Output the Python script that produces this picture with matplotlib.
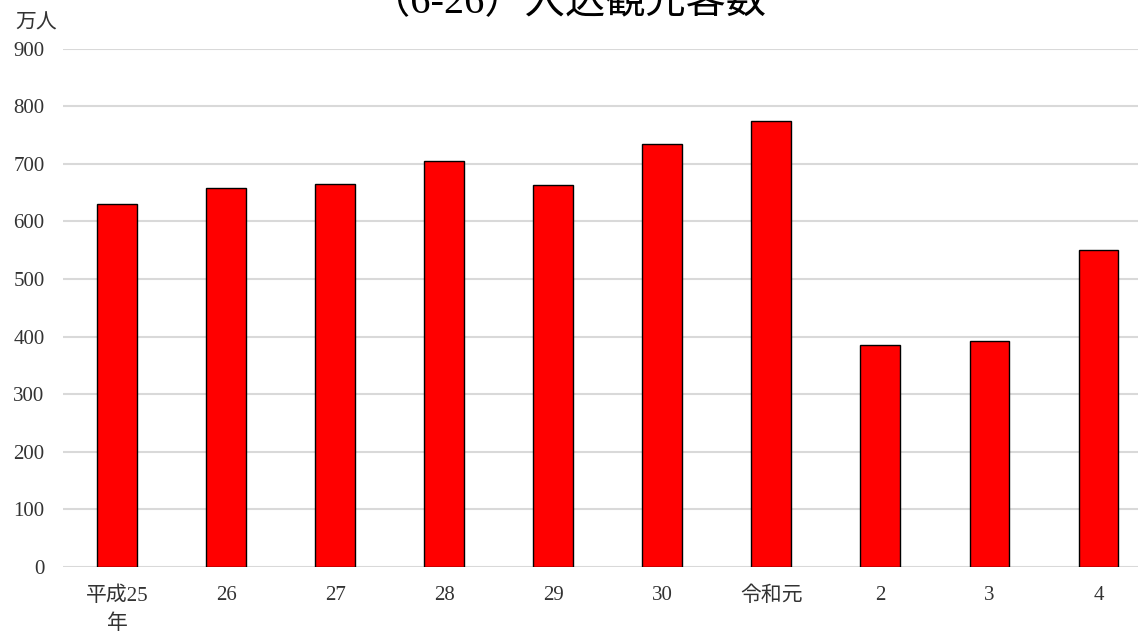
import matplotlib.pyplot as plt

# データ
years = ["平成25\n年", "26", "27", "28", "29", "30", "令和元", "2", "3", "4"]
visitors = [630, 657, 664, 704, 663, 734, 775, 385, 392, 550]  # 万人

plt.rcParams["font.family"] = ["Liberation Serif", "Noto Sans CJK JP"]

fig = plt.figure(figsize=(11.38, 6.37), dpi=100)
ax = fig.add_axes([62.5 / 1138, 1 - 567 / 637, (1153 - 62.5) / 1138, (567 - 48.5) / 637])

x = range(len(years))
ax.bar(x, visitors, width=0.365, color="#ff0000", edgecolor="black", linewidth=1, zorder=3)

ax.set_xlim(-0.5, len(years) - 0.5)
ax.set_ylim(0, 900)
ax.set_yticks(range(0, 901, 100))
ax.set_xticks(list(x))
ax.set_xticklabels(years, fontsize=15, color="#333333", linespacing=1.6)
ax.tick_params(axis="y", labelsize=15, labelcolor="#333333", length=0, pad=13)
ax.tick_params(axis="x", length=0, pad=14)
ax.grid(axis="y", color="#d9d9d9", linewidth=1.5, zorder=0)
for s in ax.spines.values():
    s.set_visible(False)

fig.text(36 / 1138, 1 - 24 / 637, "万人", fontsize=15, color="#333333", ha="center", va="center")
fig.text(568 / 1138, 1 - 13 / 637, "（6-26）入込観光客数", fontsize=29, color="black",
         ha="center", va="baseline")

fig.savefig("out.png", dpi=100)
